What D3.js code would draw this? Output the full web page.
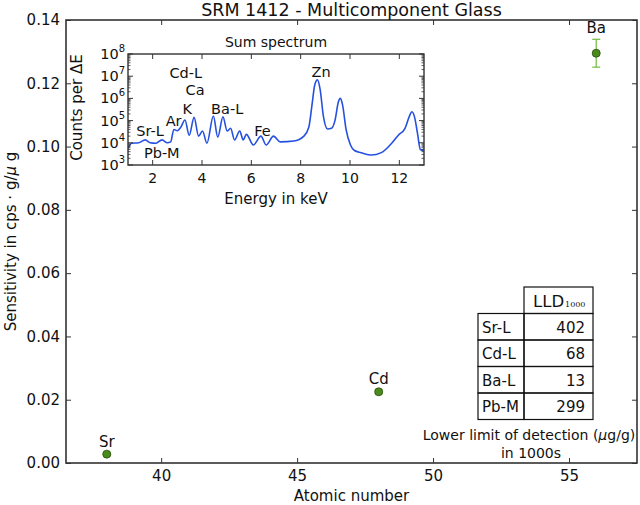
<!DOCTYPE html>
<html><head><meta charset="utf-8">
<script src="https://cdn.jsdelivr.net/npm/d3@7"></script>
<style>body{margin:0;background:#fff}svg{display:block}text{font-family:"DejaVu Sans",sans-serif;fill:#111}</style>
</head><body><svg id="c" width="640" height="505"></svg>
<script>
// ---- data ----
const elements = ["Sr", "Cd", "Ba"];
const atomicNumber = [38, 48, 56];
const sensitivity = [0.0028, 0.0225, 0.1295];
const sensitivityErr = [0.0003, 0.0006, 0.0044];
const xTicksMain = [40, 45, 50, 55];
const yTicksMain = [0, 0.02, 0.04, 0.06, 0.08, 0.10, 0.12, 0.14];

const energy = [1.00,1.15,1.43,1.70,1.90,2.11,2.38,2.59,2.73,2.86,3.00,3.14,3.31,3.48,3.68,3.86,4.02,4.20,4.46,4.64,4.85,5.02,5.16,5.32,5.53,5.67,5.80,6.08,6.39,6.60,6.90,7.17,7.72,8.13,8.33,8.47,8.57,8.68,8.79,8.92,9.09,9.25,9.39,9.53,9.61,9.70,9.84,10.02,10.18,10.45,10.86,11.27,11.69,11.96,12.23,12.41,12.51,12.62,12.74,12.85,12.99];
const counts = [5.6e3,9.5e3,1.0e4,1.35e4,1.0e4,9.5e3,1.35e4,1.0e4,1.1e4,4.0e4,3.5e4,5.0e4,1.07e5,2.2e4,1.4e5,2.0e4,3.4e4,9.5e3,1.6e5,1.8e4,1.5e5,3.4e4,4.5e4,1.35e4,3.4e4,1.35e4,2.4e4,8.0e3,2.0e4,8.0e3,2.0e4,1.1e4,1.2e4,2.0e4,5.0e4,6.3e5,4.0e6,6.8e6,2.5e6,1.6e5,4.2e4,4.5e4,1.0e5,7.0e5,1.0e6,5.0e5,4.0e4,8.0e3,4.5e3,3.6e3,2.8e3,3.6e3,9.5e3,2.2e4,4.5e4,1.6e5,2.5e5,1.4e5,2.5e4,5.0e3,4.5e3];
const peakLabels = ["Cd-L","Ca","K","Ar","Ba-L","Sr-L","Pb-M","Fe","Zn"];
const peakLabelE = [3.34,3.72,3.40,2.85,5.02,1.89,2.37,6.45,8.83];
const peakLabelC = [8.3e6,1.4e6,2.0e5,6.0e4,2.0e5,2.0e4,2.0e3,2.0e4,9.5e6];
const xTicksInset = [2,4,6,8,10,12];
const yTicksInset = [1e3,1e4,1e5,1e6,1e7,1e8];

const tableRows = ["Sr-L","Cd-L","Ba-L","Pb-M"];
const lldValues = [402, 68, 13, 299];

// ---- main chart ----
const svg = d3.select("#c");
const M = {l:66, t:20, r:637, b:463};
const x = d3.scaleLinear().domain([36.5, 57.5]).range([M.l, M.r]);
const y = d3.scaleLinear().domain([0, 0.14]).range([M.b, M.t]);
const axCol = "#333";

const gx = svg.append("g").attr("transform",`translate(0,${M.b})`)
  .call(d3.axisBottom(x).tickValues(xTicksMain).tickFormat(d3.format("d")).tickSizeInner(-5).tickSizeOuter(0).tickPadding(7));
const gxt = svg.append("g").attr("transform",`translate(0,${M.t})`)
  .call(d3.axisTop(x).tickValues(xTicksMain).tickFormat("").tickSizeInner(-5).tickSizeOuter(0));
const gy = svg.append("g").attr("transform",`translate(${M.l},0)`)
  .call(d3.axisLeft(y).tickValues(yTicksMain).tickFormat(d3.format(".2f")).tickSizeInner(-5).tickSizeOuter(0).tickPadding(6));
const gyr = svg.append("g").attr("transform",`translate(${M.r},0)`)
  .call(d3.axisRight(y).tickValues(yTicksMain).tickFormat("").tickSizeInner(-5).tickSizeOuter(0));
[gx,gxt,gy,gyr].forEach(g=>{
  g.select(".domain").remove();
  g.selectAll(".tick line").attr("stroke",axCol).attr("stroke-width",1);
  g.selectAll(".tick text").attr("font-size",15).attr("font-family","DejaVu Sans").attr("fill","#111");
});
svg.append("rect").attr("x",M.l).attr("y",M.t).attr("width",M.r-M.l).attr("height",M.b-M.t)
  .attr("fill","none").attr("stroke",axCol).attr("stroke-width",1.6);

svg.append("text").attr("x",(M.l+M.r)/2).attr("y",16).attr("text-anchor","middle").attr("font-size",17.5)
  .text("SRM 1412 - Multicomponent Glass");
svg.append("text").attr("x",(M.l+M.r)/2).attr("y",501).attr("text-anchor","middle").attr("font-size",15)
  .text("Atomic number");
const yl = svg.append("text").attr("transform",`translate(16,${(M.t+M.b)/2}) rotate(-90)`).attr("text-anchor","middle").attr("font-size",15);
yl.append("tspan").text("Sensitivity in cps \u00b7 g/");
yl.append("tspan").attr("font-style","italic").text("\u03bc");
yl.append("tspan").text(" g");

// points
const pts = elements.map((e,i)=>({e, z:atomicNumber[i], s:sensitivity[i], err:sensitivityErr[i]}));
const errCol = "#7cbf4a";
const pg = svg.append("g");
pts.forEach(p=>{
  pg.append("line").attr("x1",x(p.z)).attr("x2",x(p.z)).attr("y1",y(p.s-p.err)).attr("y2",y(p.s+p.err)).attr("stroke",errCol).attr("stroke-width",1.3);
  [p.s-p.err,p.s+p.err].forEach(v=>pg.append("line").attr("x1",x(p.z)-4).attr("x2",x(p.z)+4).attr("y1",y(v)).attr("y2",y(v)).attr("stroke",errCol).attr("stroke-width",1.3));
  pg.append("circle").attr("cx",x(p.z)).attr("cy",y(p.s)).attr("r",4).attr("fill","#4a8c1c").attr("stroke","#2b4a12").attr("stroke-width",0.8);
  pg.append("text").attr("x",x(p.z)).attr("y",y(p.s+p.err)-6).attr("text-anchor","middle").attr("font-size",15).text(p.e);
});

// ---- inset ----
const I = {l:128, t:54, r:424, b:165};
const xi = d3.scaleLinear().domain([1,13]).range([I.l,I.r]);
const yi = d3.scaleLog().domain([1e3,1e8]).range([I.b,I.t]);
const ig = svg.append("g");
ig.append("rect").attr("x",I.l).attr("y",I.t).attr("width",I.r-I.l).attr("height",I.b-I.t).attr("fill","#fff");
const clipId = "ic";
svg.append("clipPath").attr("id",clipId).append("rect").attr("x",I.l).attr("y",I.t).attr("width",I.r-I.l).attr("height",I.b-I.t);
const spec = energy.map((e,i)=>[e,counts[i]]);
ig.append("path").attr("clip-path",`url(#${clipId})`).attr("d",d3.line().x(d=>xi(d[0])).y(d=>yi(d[1])).curve(d3.curveMonotoneX)(spec))
  .attr("fill","none").attr("stroke","#2550e0").attr("stroke-width",1.6);
// x ticks
xTicksInset.forEach(t=>{
  ig.append("line").attr("x1",xi(t)).attr("x2",xi(t)).attr("y1",I.b).attr("y2",I.b-5).attr("stroke",axCol);
  ig.append("line").attr("x1",xi(t)).attr("x2",xi(t)).attr("y1",I.t).attr("y2",I.t+5).attr("stroke",axCol);
  ig.append("text").attr("x",xi(t)).attr("y",I.b+18).attr("text-anchor","middle").attr("font-size",14).text(t);
});
// y ticks (log)
yi.ticks().forEach(t=>{
  const major = yTicksInset.includes(t);
  const len = major ? 5 : 2.5;
  ig.append("line").attr("x1",I.l).attr("x2",I.l+len).attr("y1",yi(t)).attr("y2",yi(t)).attr("stroke",axCol).attr("stroke-width",major?1:0.8);
  ig.append("line").attr("x1",I.r).attr("x2",I.r-len).attr("y1",yi(t)).attr("y2",yi(t)).attr("stroke",axCol).attr("stroke-width",major?1:0.8);
});
yTicksInset.forEach(t=>{
  const tx = ig.append("text").attr("x",I.l-3).attr("y",yi(t)+5).attr("text-anchor","end").attr("font-size",14.5);
  tx.append("tspan").text("10");
  tx.append("tspan").attr("font-size",10).attr("dy",-7).text(Math.round(Math.log10(t)));
});
ig.append("rect").attr("x",I.l).attr("y",I.t).attr("width",I.r-I.l).attr("height",I.b-I.t).attr("fill","none").attr("stroke",axCol).attr("stroke-width",1.4);
ig.append("text").attr("x",(I.l+I.r)/2).attr("y",47).attr("text-anchor","middle").attr("font-size",14).text("Sum spectrum");
ig.append("text").attr("x",(I.l+I.r)/2).attr("y",204).attr("text-anchor","middle").attr("font-size",15).text("Energy in keV");
ig.append("text").attr("transform",`translate(82,${(I.t+I.b)/2-2}) rotate(-90)`).attr("text-anchor","middle").attr("font-size",15).text("Counts per \u0394E");
peakLabels.forEach((l,i)=>{
  ig.append("text").attr("x",xi(peakLabelE[i])).attr("y",yi(peakLabelC[i])).attr("text-anchor","middle").attr("font-size",14.5).text(l);
});

// ---- table ----
const T = {x0:478, x1:524, x2:593, top:287, rh:26.5};
const tg = svg.append("g").attr("stroke","#111").attr("stroke-width",1.2);
const ty = d3.scaleLinear().domain([0,1]).range([T.top, T.top+T.rh]);
tg.append("rect").attr("x",T.x1).attr("y",ty(0)).attr("width",T.x2-T.x1).attr("height",T.rh).attr("fill","none");
tableRows.forEach((r,i)=>{
  tg.append("rect").attr("x",T.x0).attr("y",ty(i+1)).attr("width",T.x1-T.x0).attr("height",T.rh).attr("fill","none");
  tg.append("rect").attr("x",T.x1).attr("y",ty(i+1)).attr("width",T.x2-T.x1).attr("height",T.rh).attr("fill","none");
  svg.append("text").attr("x",T.x0+4).attr("y",ty(i+1)+19).attr("font-size",15).text(r);
  svg.append("text").attr("x",T.x2-8).attr("y",ty(i+1)+19).attr("text-anchor","end").attr("font-size",15).text(lldValues[i]);
});
const hd = svg.append("text").attr("x",T.x1+9).attr("y",ty(0)+20).attr("font-size",16.5);
hd.append("tspan").text("LLD");
hd.append("tspan").attr("font-size",8).attr("font-family","DejaVu Serif").attr("dx",1).text("1000");
svg.append("text").attr("x",529).attr("y",440).attr("text-anchor","middle").attr("font-size",14)
  .html('Lower limit of detection (<tspan font-style="italic">\u03bc</tspan>g/g)');
svg.append("text").attr("x",531).attr("y",458).attr("text-anchor","middle").attr("font-size",14).text("in 1000s");
</script></body></html>
